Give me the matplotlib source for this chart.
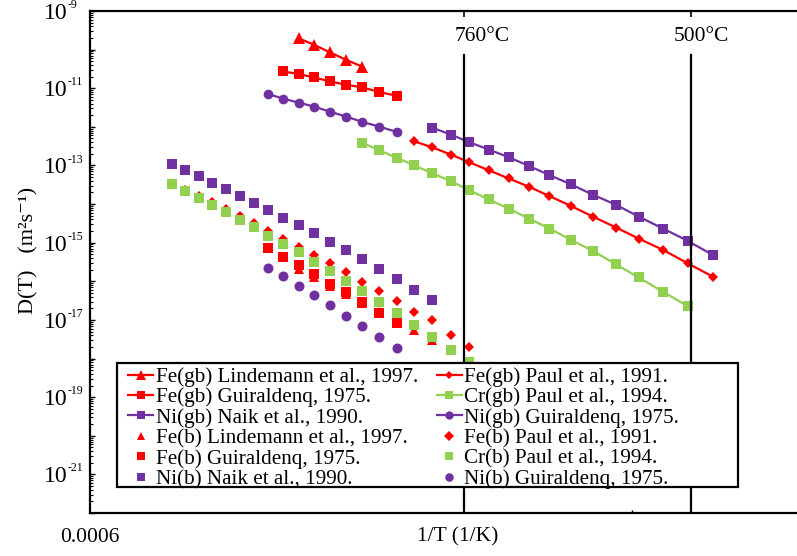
import matplotlib
matplotlib.use("Agg")
import numpy as np
import matplotlib.pyplot as plt
from matplotlib.patches import Rectangle
from matplotlib.ticker import FixedLocator, FuncFormatter, LogLocator, NullFormatter

plt.rcParams['font.family'] = ['Liberation Serif', 'DejaVu Serif']

# 1/T grid (1/K) shared by all the data sets
inv_t = [0.0006904, 0.0007052, 0.0007203, 0.0007347, 0.0007502, 0.0007661, 0.0007819,
         0.0007974, 0.0008140, 0.0008314, 0.0008483, 0.0008657, 0.0008840, 0.0009017,
         0.0009203, 0.0009395, 0.0009587, 0.0009786, 0.0009996, 0.0010196, 0.0010413,
         0.0010636, 0.0010860, 0.0011088, 0.0011328, 0.0011568, 0.0011826, 0.0012075,
         0.0012345, 0.0012620, 0.0012900]

# diffusion coefficients D (m2/s), each series starts at a grid index
fe_gb_lindemann = [1.95e-10, 1.33e-10, 8.5e-11, 5.4e-11, 3.6e-11]
fe_gb_guiraldenq = [2.72e-11, 2.33e-11, 1.90e-11, 1.50e-11, 1.23e-11, 1.05e-11, 7.98e-12, 6.40e-12]
ni_gb_naik = [9.56e-13, 6.31e-13, 4.04e-13, 2.59e-13, 1.64e-13, 9.71e-14, 5.62e-14, 3.23e-14,
              1.75e-14, 9.56e-15, 4.74e-15, 2.33e-15, 1.11e-15, 4.76e-16]
fe_b_lindemann = [2.07e-16, 1.29e-16, 7.77e-17, 4.69e-17, 2.75e-17, 1.56e-17, 9.15e-18, 5.52e-18, 3.05e-18]
fe_b_guiraldenq = [7.08e-16, 4.30e-16, 2.63e-16, 1.54e-16, 8.49e-17, 5.19e-17, 2.86e-17, 1.49e-17, 8.22e-18]
ni_b_naik = [1.06e-13, 7.56e-14, 5.20e-14, 3.58e-14, 2.45e-14, 1.61e-14, 1.09e-14, 6.90e-15, 4.47e-15,
             2.88e-15, 1.76e-15, 1.05e-15, 6.40e-16, 3.69e-16, 2.07e-16, 1.14e-16, 6.05e-17, 3.22e-17]
fe_gb_paul = [4.24e-13, 2.97e-13, 1.92e-13, 1.22e-13, 7.56e-14, 4.62e-14, 2.82e-14, 1.61e-14, 8.91e-15,
              4.74e-15, 2.47e-15, 1.28e-15, 6.52e-16, 2.91e-16, 1.31e-16]
cr_gb_paul = [3.85e-13, 2.48e-13, 1.58e-13, 1.02e-13, 6.33e-14, 3.93e-14, 2.30e-14, 1.33e-14, 7.63e-15,
              4.21e-15, 2.33e-15, 1.18e-15, 6.14e-16, 2.74e-16, 1.26e-16, 5.37e-17, 2.26e-17]
ni_gb_guiraldenq = [7.08e-12, 5.36e-12, 4.23e-12, 3.33e-12, 2.47e-12, 1.84e-12, 1.34e-12, 1.015e-12, 7.41e-13]
fe_b_paul = [3.23e-14, 2.33e-14, 1.63e-14, 1.14e-14, 7.54e-15, 4.97e-15, 3.19e-15, 1.98e-15, 1.23e-15, 7.65e-16,
             4.76e-16, 2.96e-16, 1.70e-16, 9.74e-17, 5.50e-17, 3.09e-17, 1.58e-17, 9.97e-18, 4.17e-18, 1.97e-18]
cr_b_paul = [3.23e-14, 2.13e-14, 1.43e-14, 9.45e-15, 6.13e-15, 3.88e-15, 2.51e-15, 1.50e-15, 9.31e-16, 5.68e-16,
             3.23e-16, 1.81e-16, 1.015e-16, 5.50e-17, 2.86e-17, 1.52e-17, 7.30e-18, 3.58e-18, 1.68e-18, 8.10e-19]
ni_b_guiraldenq = [2.20e-16, 1.34e-16, 7.68e-17, 4.50e-17, 2.44e-17, 1.29e-17, 7.13e-18, 3.71e-18, 1.86e-18]

temp_lines = [0.0010140, 0.0012653]
temp_labels = ['760°C', '500°C']

# labelled decades on the D axis
label_exps = [-21, -19, -17, -15, -13, -11, -9]

RED = '#ff0000'
GREEN = '#92d050'
PURPLE = '#7030a0'

# label, start index, values, colour, marker, size, connected
series = [
    ('Fe(gb) Lindemann et al., 1997.', 9, fe_gb_lindemann, RED, '^', 8, True),
    ('Fe(gb) Guiraldenq, 1975.', 8, fe_gb_guiraldenq, RED, 's', 7.2, True),
    ('Ni(gb) Naik et al., 1990.', 17, ni_gb_naik, PURPLE, 's', 7.2, True),
    ('Fe(b) Lindemann et al., 1997.', 9, fe_b_lindemann, RED, '^', 7.5, False),
    ('Fe(b) Guiraldenq, 1975.', 7, fe_b_guiraldenq, RED, 's', 7.5, False),
    ('Ni(b) Naik et al., 1990.', 0, ni_b_naik, PURPLE, 's', 7.5, False),
    ('Fe(gb) Paul et al., 1991.', 16, fe_gb_paul, RED, 'D', 5.2, True),
    ('Cr(gb) Paul et al., 1994.', 13, cr_gb_paul, GREEN, 's', 7.2, True),
    ('Ni(gb) Guiraldenq, 1975.', 7, ni_gb_guiraldenq, PURPLE, 'o', 7, True),
    ('Fe(b) Paul et al., 1991.', 0, fe_b_paul, RED, 'D', 5.5, False),
    ('Cr(b) Paul et al., 1994.', 0, cr_b_paul, GREEN, 's', 7.5, False),
    ('Ni(b) Guiraldenq, 1975.', 7, ni_b_guiraldenq, PURPLE, 'o', 7.2, False),
]

fig = plt.figure(figsize=(7.97, 5.56), dpi=100)
ax = fig.add_axes([0.1129, 0.0773, 0.9235, 0.9029])

for label, start, vals, color, marker, ms, joined in series:
    xs = inv_t[start:start + len(vals)]
    ax.plot(xs, vals, color=color, marker=marker, markersize=ms,
            linestyle='-' if joined else 'none', linewidth=1.6,
            markeredgewidth=0, label=label)

for xv, txt, dx in zip(temp_lines, temp_labels, [13.3, 7.6]):
    ax.axvline(xv, ymin=0, ymax=0.912, color='black', linewidth=1.6)
    ax.annotate(txt, xy=(xv, 1), xycoords=('data', 'axes fraction'),
                xytext=(dx, -18), textcoords='offset points',
                ha='center', va='center', fontsize=15.5)

ax.set_yscale('log')
ax.set_ylim(1e-22, 1e-9)
ax.set_xlim(0.0006, 0.001415)


def decade_label(v, pos):
    e = int(round(np.log10(v)))
    return '10' if e in label_exps else ''


ax.yaxis.set_major_locator(FixedLocator([10.0 ** e for e in range(-22, -8)]))
ax.yaxis.set_minor_locator(LogLocator(base=10, subs=range(2, 10), numticks=40))
ax.yaxis.set_major_formatter(FuncFormatter(decade_label))
ax.yaxis.set_minor_formatter(NullFormatter())

# small raised exponents next to the "10" tick labels
for e in label_exps:
    ax.annotate(str(e), xy=(0, 10.0 ** e), xycoords=('axes fraction', 'data'),
                xytext=(-16.3, 4.3), textcoords='offset points',
                ha='left', va='center', fontsize=8.5, annotation_clip=False)

ax.set_xticks([0.0006] + temp_lines)
ax.set_xticklabels(['0.0006', '', ''])
ax.set_xticks([0.0012], minor=True)

ax.tick_params(which='both', direction='in', right=False)
ax.tick_params(axis='x', which='major', top=True, length=4.5, width=1.2, pad=11, labelsize=15.5)
ax.tick_params(axis='x', which='minor', top=False, length=2.5, width=1)
ax.tick_params(axis='y', which='major', length=3.8, width=1, pad=16.5, labelsize=17)
ax.tick_params(axis='y', which='minor', length=2, width=0.8)

ax.spines['right'].set_visible(False)
for side in ['left', 'top', 'bottom']:
    ax.spines[side].set_linewidth(1.6)

ax.set_xlabel('1/T (1/K)', fontsize=15.5)
ax.xaxis.set_label_coords(0.5, -0.028)
ax.set_ylabel('D(T)   (m²s⁻¹)', fontsize=16)
ax.yaxis.set_label_coords(-0.07, 0.524)

# legend box drawn separately so its size can be set
ax.add_patch(Rectangle((0.0367, 0.0518), 0.8437, 0.247, transform=ax.transAxes,
                       facecolor='white', edgecolor='black', linewidth=1.6, zorder=4))
ax.legend(ncol=2, loc='upper left', bbox_to_anchor=(0.046, 0.2988), frameon=False,
          fontsize=15.2, handlelength=1.2, handletextpad=0.1, columnspacing=0.9,
          labelspacing=0.03, borderaxespad=0, borderpad=0.2, markerscale=0.85)

fig.savefig('out.png', dpi=100)
